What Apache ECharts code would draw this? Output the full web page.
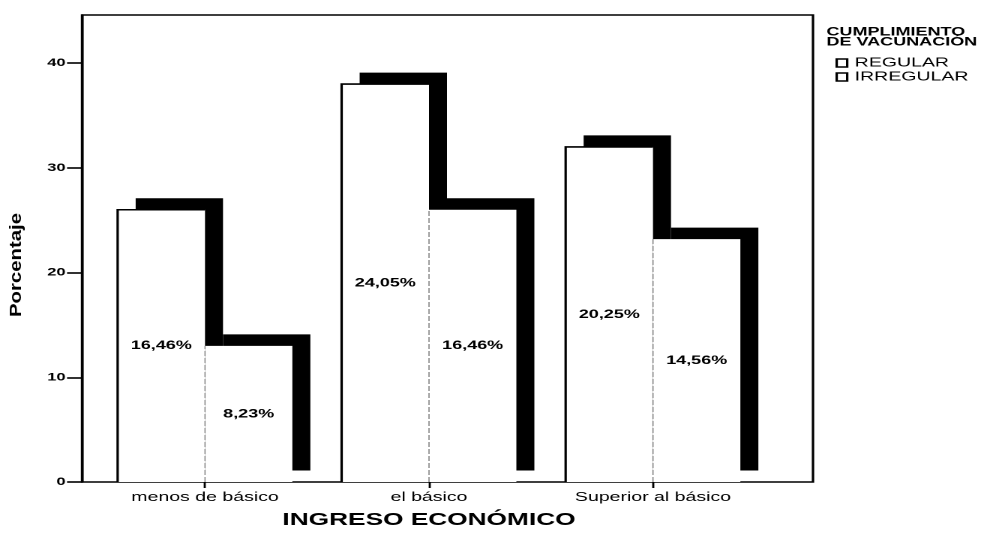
<!DOCTYPE html>
<html>
<head>
<meta charset="utf-8">
<title>Ingreso económico - cumplimiento de vacunación</title>
<script src="https://cdn.jsdelivr.net/npm/echarts@6/dist/echarts.min.js"></script>
<style>
  html, body { margin: 0; padding: 0; background: #fff; overflow: hidden; }
  /* la figura original viene estirada a lo ancho (x1.5): se dibuja angosta y se estira */
  #main { width: 654.67px; height: 535px; transform: scaleX(1.5); transform-origin: 0 0; }
</style>
</head>
<body>
<div id="main"></div>
<script>
// datos
const categories = ['menos de básico', 'el básico', 'Superior al básico'];
const seriesNames = ['REGULAR', 'IRREGULAR'];
const regularValues = [26, 38, 32];
const irregularValues = [13, 26, 23.2];
const regularLabels = ['16,46%', '24,05%', '20,25%'];
const irregularLabels = ['8,23%', '16,46%', '14,56%'];
const yTicks = [0, 10, 20, 30, 40];

const FONT = 'Liberation Sans, Arial, sans-serif';
const BAR_RATIO = 0.39;     // ancho de cada barra respecto a la banda
const SHADOW_DX = 12;
const SHADOW_DY = -11.5;

const chart = echarts.init(document.getElementById('main'), null, { devicePixelRatio: 2 });

// barra blanca con sombra negra desplazada (estilo SPSS)
// slot 0 = barra a la izquierda del centro, slot 1 = a la derecha
function makeRenderItem(slot, labels, edge) {
  return function (params, api) {
    const base = api.coord([api.value(0), 0]);
    const top = api.coord([api.value(0), api.value(1)]);
    const barW = api.size([1, 0])[0] * BAR_RATIO;
    const x0 = base[0] - barW + slot * barW;
    const h = base[1] - top[1];
    const edgePoints = edge.top
      ? [[x0, base[1]], [x0, top[1]], [x0 + barW, top[1]]]
      : [[x0, base[1]], [x0, top[1]]];
    return {
      type: 'group',
      children: [
        {
          type: 'rect', z2: 0,
          shape: { x: x0 + SHADOW_DX, y: top[1] + SHADOW_DY, width: barW, height: h },
          style: { fill: '#000' }
        },
        {
          type: 'rect', z2: 1,
          shape: { x: x0, y: top[1], width: barW, height: h },
          style: { fill: '#fff' }
        },
        {
          type: 'polyline', z2: 2,
          shape: { points: edgePoints },
          style: { fill: null, stroke: edge.color, lineWidth: edge.width, lineDash: edge.dash }
        },
        {
          type: 'text', z2: 3,
          x: x0 + barW / 2,
          y: top[1] + h / 2,
          style: {
            text: labels[params.dataIndex],
            font: 'bold 12px ' + FONT,
            fill: '#000',
            align: 'center',
            verticalAlign: 'middle'
          }
        }
      ]
    };
  };
}

const option = {
  animation: false,
  backgroundColor: '#fff',
  title: {
    text: 'CUMPLIMIENTO\nDE VACUNACIÓN',
    left: 551,
    top: 27,
    padding: 0,
    textStyle: { color: '#000', fontFamily: FONT, fontWeight: 'bold', fontSize: 12, lineHeight: 10 }
  },
  legend: {
    data: seriesNames,
    orient: 'vertical',
    left: 557,
    top: 56,
    padding: 0,
    itemWidth: 7,
    itemHeight: 8,
    itemGap: 0,
    icon: 'rect',
    itemStyle: { color: '#fff', borderColor: '#000', borderWidth: 1.6 },
    textStyle: { color: '#000', fontFamily: FONT, fontSize: 13, lineHeight: 14 }
  },
  // grid 0 = marco del grafico, grid 1 = zona de las barras
  grid: [
    { left: 54.7, top: 15, width: 487.3, height: 467, show: true, borderColor: '#000', borderWidth: 1.6 },
    { left: 62, top: 15, width: 448, height: 467 }
  ],
  xAxis: [
    { type: 'value', gridIndex: 0, show: false },
    {
      type: 'category',
      gridIndex: 1,
      data: categories,
      axisLine: { show: false },
      axisTick: { show: true, alignWithLabel: true, length: 6, lineStyle: { color: '#000', width: 1.4 } },
      axisLabel: { color: '#000', fontFamily: FONT, fontSize: 13, margin: 9 },
      name: 'INGRESO ECONÓMICO',
      nameLocation: 'middle',
      nameGap: 29,
      nameTextStyle: { color: '#000', fontFamily: FONT, fontWeight: 'bold', fontSize: 17.5 }
    }
  ],
  yAxis: [
    {
      type: 'value',
      gridIndex: 0,
      min: 0,
      max: 44.6,
      axisLine: { show: true, lineStyle: { color: '#000', width: 1.6 } },
      axisTick: { show: true, length: 10, customValues: yTicks, lineStyle: { color: '#000', width: 1.6 } },
      axisLabel: { customValues: yTicks, color: '#000', fontFamily: FONT, fontWeight: 'bold', fontSize: 11, margin: 11 },
      splitLine: { show: false }
    },
    { type: 'value', gridIndex: 1, min: 0, max: 44.6, show: false }
  ],
  graphic: [
    {
      // titulo del eje Y (estirado a lo largo como en el original)
      type: 'text',
      x: 11,
      y: 265,
      rotation: Math.PI / 2,
      scaleX: 1.85,
      style: {
        text: 'Porcentaje',
        font: 'bold 11px ' + FONT,
        fill: '#000',
        align: 'center',
        verticalAlign: 'middle'
      }
    }
  ],
  series: [
    {
      name: seriesNames[0],
      type: 'custom',
      xAxisIndex: 1,
      yAxisIndex: 1,
      itemStyle: { color: '#fff' },
      renderItem: makeRenderItem(0, regularLabels, { top: true, color: '#000', width: 1.6, dash: null }),
      encode: { x: 0, y: 1 },
      data: regularValues.map((v, i) => [i, v])
    },
    {
      name: seriesNames[1],
      type: 'custom',
      xAxisIndex: 1,
      yAxisIndex: 1,
      itemStyle: { color: '#fff' },
      renderItem: makeRenderItem(1, irregularLabels, { top: false, color: '#777', width: 0.7, dash: [5, 2] }),
      encode: { x: 0, y: 1 },
      data: irregularValues.map((v, i) => [i, v])
    }
  ]
};

chart.setOption(option);
</script>
</body>
</html>
